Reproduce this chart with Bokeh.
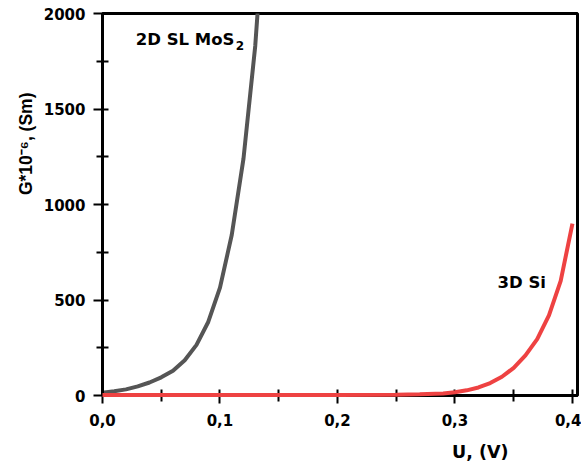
from bokeh.plotting import figure
from bokeh.models import Range1d, FixedTicker, Label, Title
from bokeh.embed import file_html
from bokeh.resources import INLINE

# 2D single-layer MoS2 conductance curve
mos2_u = [0.00, 0.01, 0.02, 0.03, 0.04, 0.05, 0.06, 0.07, 0.08, 0.09, 0.10, 0.11, 0.12, 0.13, 0.14]
mos2_g = [15, 22, 32, 48, 68, 95, 130, 185, 265, 385, 565, 840, 1240, 1830, 2700]

# 3D Si conductance curve
si_u = [0.00, 0.05, 0.10, 0.15, 0.20, 0.25, 0.27, 0.29, 0.30, 0.31, 0.32, 0.33, 0.34, 0.35, 0.36, 0.37, 0.38, 0.39, 0.40]
si_g = [3, 3, 3, 3, 3, 4, 6, 10, 17, 27, 42, 65, 98, 145, 210, 295, 420, 600, 900]

x_ticks = [0.0, 0.1, 0.2, 0.3, 0.4]
x_tick_labels = ["0,0", "0,1", "0,2", "0,3", "0,4"]
x_minor = [0.05, 0.15, 0.25, 0.35]
y_ticks = [0, 500, 1000, 1500, 2000]
y_tick_labels = ["0", "500", "1000", "1500", "2000"]
y_minor = [250, 750, 1250, 1750]

x_title = "U, (V)"
y_title = "G*10\u207b\u2076, (Sm)"
label_mos2 = "2D SL MoS"
label_mos2_sub = "2"
label_si = "3D Si"

FONT = "DejaVu Sans"

p = figure(width=581, height=473, output_backend="svg", toolbar_location=None,
           x_range=Range1d(0, 0.4043), y_range=Range1d(0, 2000),
           min_border_left=102, min_border_right=4, min_border_top=13, min_border_bottom=78)
p.grid.visible = False
p.background_fill_color = "white"
p.border_fill_color = "white"
p.outline_line_color = "black"
p.outline_line_width = 3
p.outline_line_alpha = 1.0

p.xaxis.ticker = FixedTicker(ticks=x_ticks, minor_ticks=x_minor)
p.yaxis.ticker = FixedTicker(ticks=y_ticks, minor_ticks=y_minor)
p.xaxis.major_label_overrides = dict(zip(x_ticks, x_tick_labels))
p.yaxis.major_label_overrides = dict(zip(y_ticks, y_tick_labels))

for ax in (p.xaxis, p.yaxis):
    ax.axis_line_color = "black"
    ax.axis_line_width = 3
    ax.major_tick_line_color = "black"
    ax.major_tick_line_width = 2
    ax.minor_tick_line_color = "black"
    ax.minor_tick_line_width = 2
    ax.major_tick_in = 6
    ax.major_tick_out = 8
    ax.minor_tick_in = 6
    ax.minor_tick_out = 6
    ax.major_label_text_font = FONT
    ax.major_label_text_font_style = "bold"
    ax.major_label_text_font_size = "15px"
    ax.major_label_text_color = "black"
p.yaxis.major_label_standoff = 8
p.xaxis.major_label_standoff = 10
p.yaxis.major_tick_out = 9

p.line(mos2_u, mos2_g, line_color="#555555", line_width=4)
p.line(si_u, si_g, line_color="#ee4242", line_width=4, level="overlay")

p.add_layout(Label(x=0.0283, y=1866, text=label_mos2, text_font=FONT, text_font_style="bold",
                   text_font_size="16.5px", text_color="black", text_align="left",
                   text_baseline="alphabetic"))
p.add_layout(Label(x=0.0283, y=1866, x_offset=100, y_offset=-6, text=label_mos2_sub, text_font=FONT,
                   text_font_style="bold", text_font_size="12px", text_color="black",
                   text_align="left", text_baseline="alphabetic"))
p.add_layout(Label(x=0.3362, y=592, text=label_si, text_font=FONT, text_font_style="bold",
                   text_font_size="16.5px", text_color="black", text_align="left",
                   text_baseline="alphabetic"))

p.add_layout(Title(text=y_title, align="right", offset=79, standoff=10, text_font="Liberation Sans",
                   text_font_style="bold", text_font_size="17.5px", text_color="black"), "left")
p.add_layout(Title(text=x_title, align="right", offset=69, standoff=23, text_font=FONT,
                   text_font_style="bold", text_font_size="17.5px", text_color="black"), "below")

open("out.html", "w").write(file_html(p, INLINE))
